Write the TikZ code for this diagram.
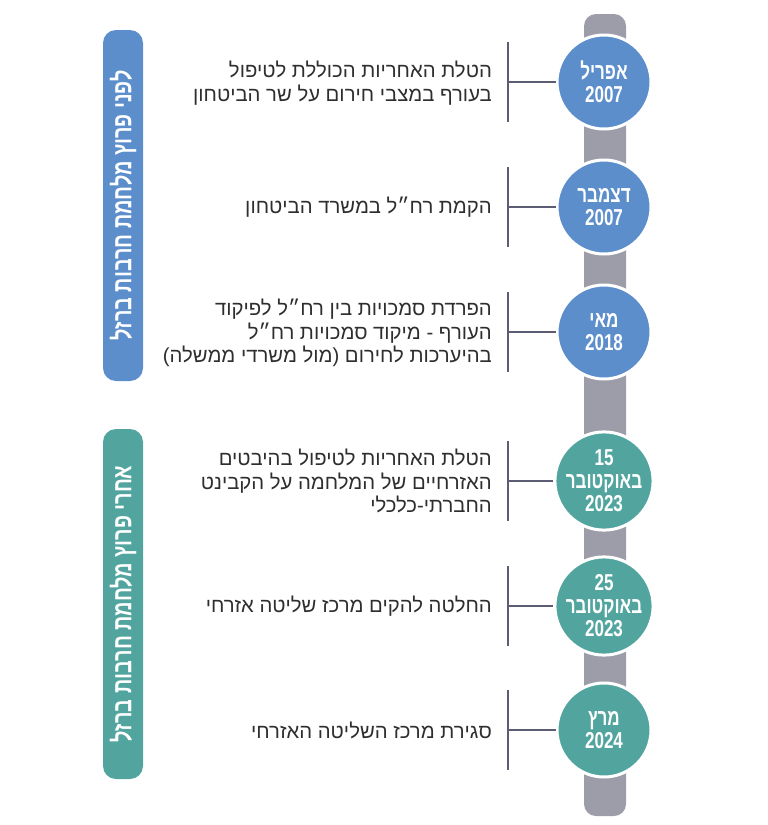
\documentclass[tikz,border=0pt]{standalone}
\usepackage{fontspec}
\TeXXeTstate=1
\newfontfamily\hebfont{Liberation Sans}[Script=Hebrew]
\newfontfamily\datefont{Liberation Sans}[Script=Hebrew,FakeStretch=0.74]
\newfontfamily\erafont{Liberation Sans}[Script=Hebrew,FakeStretch=0.75]
\definecolor{beforeblue}{HTML}{5B8ECB}
\definecolor{afterteal}{HTML}{52A59F}
\definecolor{axisgray}{HTML}{9D9DA9}
\definecolor{linkgray}{HTML}{5C5C74}
\definecolor{eventtext}{HTML}{2E2E2E}
\tikzset{
  datecirc/.style={circle,draw=white,line width=3pt,minimum size=94pt,inner sep=0pt,
    text=white,align=center,font=\datefont\bfseries\fontsize{23}{23}\selectfont},
  eventtxt/.style={anchor=east,align=right,text=eventtext,inner sep=0pt,
    font=\hebfont\fontsize{20.3}{23.5}\selectfont},
  erabar/.style={rectangle,rounded corners=13pt,rotate=90,minimum height=40pt,
    inner sep=0pt,text=white,font=\erafont\bfseries\fontsize{26.5}{26.5}\selectfont},
  link/.style={linkgray,line width=1.4pt}
}
\begin{document}
\begin{tikzpicture}[x=1pt,y=-1pt]
    \useasboundingbox (0,0) rectangle (768,825);
    % time axis
    \fill[axisgray,rounded corners=12pt] (584,14) rectangle (626,816);
    % era labels
    \node[erabar,fill=beforeblue,minimum width=351pt] (era1) at (123,205.5)
      {\beginR לפני פרוץ מלחמת חרבות ברזל\endR};
    \node[erabar,fill=afterteal,minimum width=350pt] (era2) at (123,604)
      {\beginR אחרי פרוץ מלחמת חרבות ברזל\endR};
    % dates
    \node[datecirc,fill=beforeblue] (d1) at (604,82) {\beginR אפריל\endR\\2007};
    \node[datecirc,fill=beforeblue] (d2) at (604,207) {\beginR דצמבר\endR\\2007};
    \node[datecirc,fill=beforeblue] (d3) at (604,332) {\beginR מאי\endR\\2018};
    \node[datecirc,fill=afterteal] (d4) at (604,481) {15\\\beginR באוקטובר\endR\\2023};
    \node[datecirc,fill=afterteal] (d5) at (604,606) {25\\\beginR באוקטובר\endR\\2023};
    \node[datecirc,fill=afterteal] (d6) at (604,730) {\beginR מרץ\endR\\2024};
    % events
    \node[eventtxt] (t1) at (492,83)
      {\beginR הטלת האחריות הכוללת לטיפול\endR\\\beginR בעורף במצבי חירום על שר הביטחון\endR};
    \node[eventtxt] (t2) at (492,207) {\beginR הקמת רח״ל במשרד הביטחון\endR};
    \node[eventtxt] (t3) at (492,333)
      {\beginR הפרדת סמכויות בין רח״ל לפיקוד\endR\\\beginR העורף - מיקוד סמכויות רח״ל\endR\\\beginR בהיערכות לחירום (מול משרדי ממשלה)\endR};
    \node[eventtxt] (t4) at (492,481)
      {\beginR הטלת האחריות לטיפול בהיבטים\endR\\\beginR האזרחיים של המלחמה על הקבינט\endR\\\beginR החברתי-כלכלי\endR};
    \node[eventtxt] (t5) at (492,606) {\beginR החלטה להקים מרכז שליטה אזרחי\endR};
    \node[eventtxt] (t6) at (492,730) {\beginR סגירת מרכז השליטה האזרחי\endR};
    % brackets
    \foreach \i/\cy in {1/82,2/207,3/332,4/481,5/606,6/730}
      {\coordinate (k\i) at (508,\cy);
       \draw[link] ([yshift=40pt]k\i) -- ([yshift=-40pt]k\i);
       \draw[link] (k\i) -- (d\i);}
\end{tikzpicture}
\end{document}
